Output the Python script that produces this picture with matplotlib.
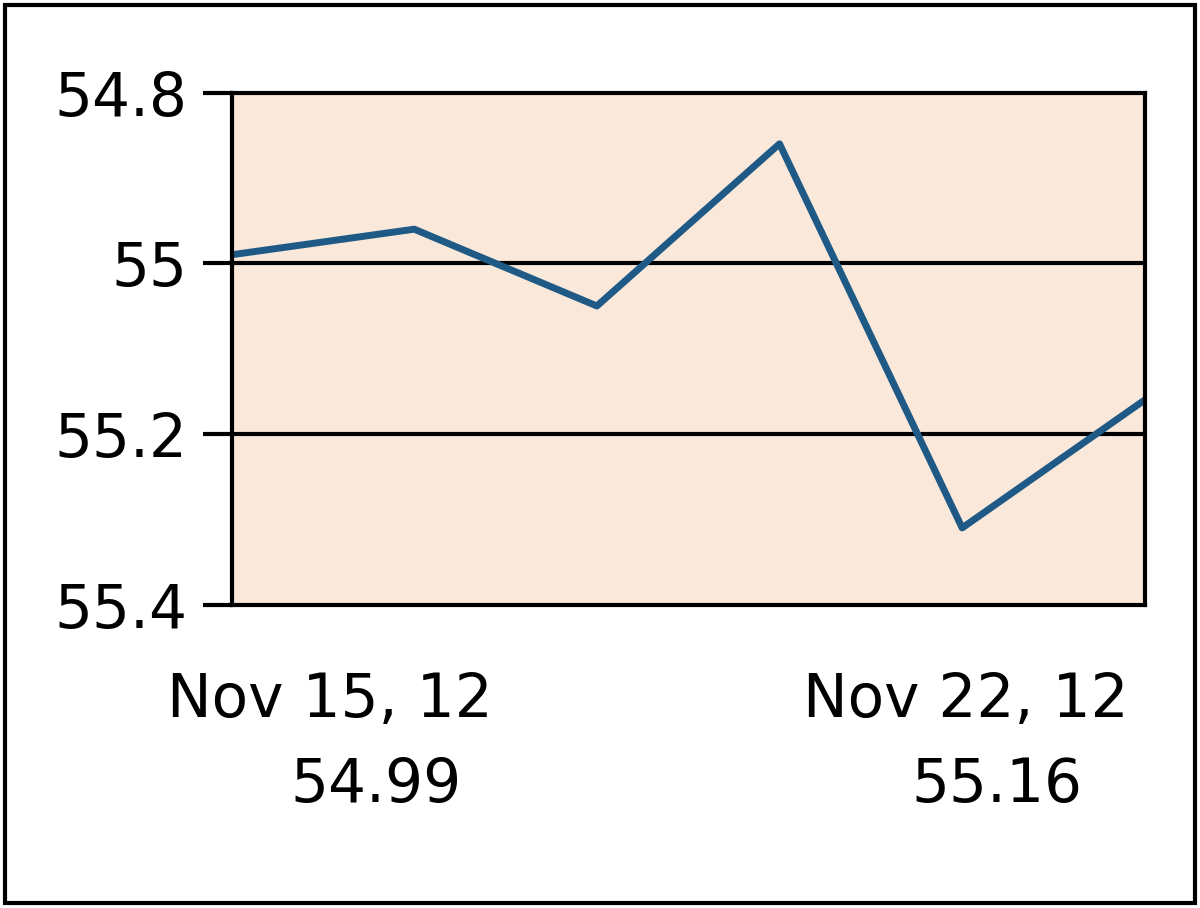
import matplotlib.pyplot as plt
from matplotlib.patches import Rectangle

dates = ["Nov 15", "Nov 16", "Nov 19", "Nov 20", "Nov 21", "Nov 22"]
prices = [54.99, 54.96, 55.05, 54.86, 55.31, 55.16]
yticks = [54.8, 55.0, 55.2, 55.4]
ytick_labels = ["54.8", "55", "55.2", "55.4"]
first_label = ["Nov 15, 12", "54.99"]
last_label = ["Nov 22, 12", "55.16"]

plt.rcParams['font.family'] = ['DejaVu Sans']

fig = plt.figure(figsize=(12, 9.08), dpi=100)
ax = fig.add_axes([0.193, 0.334, 0.761, 0.564])
ax.set_facecolor("#fae9db")

x = list(range(len(prices)))
ax.plot(x, prices, color="#1f5a86", lw=5, solid_joinstyle="round",
        solid_capstyle="round")

ax.set_xlim(0, len(prices) - 1)
ax.set_ylim(55.4, 54.8)
ax.set_yticks(yticks)
ax.set_yticklabels(ytick_labels)
ax.set_xticks([])
for y in yticks[1:-1]:
    ax.axhline(y, color="black", lw=3, zorder=1)

for s in ax.spines.values():
    s.set_linewidth(3)
ax.tick_params(axis="y", length=21, width=3, labelsize=43, pad=11)

# date / value captions under the plot
fig.text(0.275, 0.229, first_label[0], ha="center", va="center", fontsize=43)
fig.text(0.313, 0.135, first_label[1], ha="center", va="center", fontsize=43)
fig.text(0.805, 0.229, last_label[0], ha="center", va="center", fontsize=43)
fig.text(0.831, 0.135, last_label[1], ha="center", va="center", fontsize=43)

fig.patches.append(Rectangle((0.004, 0.005), 0.992, 0.99, transform=fig.transFigure,
                             fill=False, edgecolor="black", lw=3))

fig.savefig("out.png", dpi=100)
